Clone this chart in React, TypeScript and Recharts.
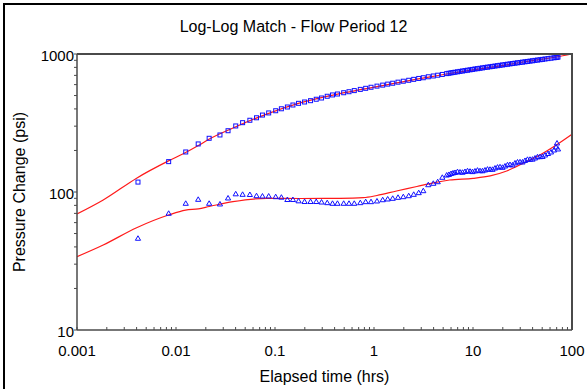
import { ComposedChart, Line, Scatter, XAxis, YAxis } from "recharts";

// elapsed time (hrs) of each measured point
const times = [
  0.00413, 0.00843, 0.01254, 0.01676, 0.02162, 0.0278, 0.03355, 0.04012, 0.04708, 0.05573,
  0.06504, 0.0747, 0.08634, 0.1016, 0.116, 0.1334, 0.1517, 0.1729, 0.1989, 0.2286,
  0.2609, 0.2952, 0.3369, 0.381, 0.4275, 0.494, 0.559, 0.632, 0.727, 0.824,
  0.933, 1.072, 1.224, 1.375, 1.545, 1.748, 1.977, 2.242, 2.518, 2.828,
  3.147, 3.536, 3.972, 4.4, 4.898,
  5.424, 5.71, 5.995, 6.28, 6.58, 6.97, 7.39, 7.83, 8.3, 8.8,
  9.33, 9.88, 10.47, 11.1, 11.77, 12.47, 13.22, 14.01, 14.85, 15.74,
  16.68, 17.68, 18.74, 19.86, 21.05, 22.31, 23.64, 25.06, 26.56, 28.15,
  29.84, 31.62, 33.52, 35.52, 37.65, 39.9, 42.3, 44.82, 47.51, 50.35,
  53.37, 57.23, 61.37, 65.81, 68.94, 70.56, 72.2,
];

// pressure change (psi) - squares
const pressureChange = [
  118, 166, 195, 223, 245, 259, 278, 301, 318, 331,
  345, 361, 374, 388, 401, 413, 427, 439, 449, 459,
  470, 480, 494, 505, 513, 524, 533, 543, 554, 564,
  574, 585, 595, 605, 614, 625, 635, 645, 655, 665,
  673, 684, 693, 702, 711,
  721, 725, 730, 734, 738, 743, 748, 753, 758, 763,
  768, 773, 779, 783, 788, 793, 799, 803, 808, 813,
  818, 823, 828, 833, 838, 843, 848, 853, 858, 863,
  868, 873, 878, 883, 888, 893, 899, 904, 909, 914,
  920, 926, 932, 939, 943, 946, 950,
];

// pressure derivative (psi) - triangles
const derivative = [
  46.2, 70.1, 82.8, 88.5, 82.8, 81.9, 90.5, 97.0, 96.2, 95.9,
  94.0, 93.5, 93.5, 92.5, 91.7, 88.2, 88.2, 86.3, 85.3, 85.3,
  85.3, 84.6, 83.7, 82.8, 82.8, 82.8, 82.8, 82.8, 83.7, 85.1,
  85.1, 86.1, 87.9, 89.0, 90.0, 91.5, 92.5, 94.0, 96.2, 98.9,
  102.2, 112.9, 115.6, 118.7, 127.8,
  132.7, 134, 136.1, 137.5, 138.5, 140.5, 139.6, 139, 140.8, 142.5,
  141.5, 140.5, 142.0, 144, 142.7, 142.5, 144.4, 146.5, 146.1, 146,
  149.2, 151.5, 152.3, 151, 154.3, 157.5, 158.2, 157, 162.3, 165,
  165.5, 165, 169.2, 172.5, 172.6, 173, 176.4, 180, 180.3, 181,
  185.4, 190.1, 195.0, 201.5, 211.8, 226.5, 205,
];

// model match curves
const modelTimes = [
  0.001, 0.00184, 0.004, 0.0084, 0.0125, 0.0168, 0.0217, 0.0376, 0.0824, 0.179,
  0.453, 0.78, 1.07, 1.69, 2.71, 3.96, 5.8, 10, 14.9, 21.9,
  32.2, 47.3, 69.4, 100,
];
const modelPressure = [
  69.3, 87.5, 126, 168, 193, 217, 242, 291, 367, 442,
  517, 556, 580, 617, 657, 689, 722, 768, 800, 835,
  875, 912, 951, 1000,
];
const modelDerivative = [
  34.0, 41.3, 55.1, 68.1, 74.0, 75.5, 78.5, 85.1, 90.0, 89.7,
  90.0, 91.0, 94.3, 101.7, 109.6, 116.6, 122.2, 125.6, 130.7, 142.0,
  161.5, 185.3, 219, 262,
];

const xDecades = [0.001, 0.01, 0.1, 1, 10];
const yDecades = [10, 100];
const minorSteps = [1, 2, 3, 4, 5, 6, 7, 8, 9];
const xLabels = [0.001, 0.01, 0.1, 1, 10, 100];
const yLabels = [10, 100, 1000];

const xTicks = [...xDecades.flatMap((d) => minorSteps.map((m) => +(d * m).toPrecision(6))), 100];
const yTicks = [...yDecades.flatMap((d) => minorSteps.map((m) => d * m)), 1000];

const FONT = '"Liberation Sans", Arial, sans-serif';
const AXIS = "#4a4a4a";
const BLUE = "#1010ff";
const RED = "#ff1a1a";

const pressureData = times.map((t, i) => ({ t, p: pressureChange[i] }));
const derivData = times.map((t, i) => ({ t, p: derivative[i] }));
const modelPData = modelTimes.map((t, i) => ({ t, p: modelPressure[i] }));
const modelDData = modelTimes.map((t, i) => ({ t, p: modelDerivative[i] }));

const isLabel = (list: number[], v: number) => list.find((l) => Math.abs(l - v) / l < 1e-6);

const XTick = (props: any) => {
  const { x, y, payload } = props;
  const lab = isLabel(xLabels, payload.value);
  return (
    <g>
      <line x1={x} x2={x} y1={y} y2={y - 3} stroke={AXIS} />
      {lab !== undefined && (
        <text x={x} y={y + 20} textAnchor="middle" dominantBaseline="central" fontSize={15} fontFamily={FONT} fill="#000">
          {String(lab)}
        </text>
      )}
    </g>
  );
};

const YTick = (props: any) => {
  const { x, y, payload } = props;
  const lab = isLabel(yLabels, payload.value);
  return (
    <g>
      <line x1={x - 3} x2={x} y1={y} y2={y} stroke={AXIS} />
      {lab !== undefined && (
        <text x={x - 3} y={y + 1} textAnchor="end" dominantBaseline="central" fontSize={15} fontFamily={FONT} fill="#000">
          {String(lab)}
        </text>
      )}
    </g>
  );
};

const Square = (props: any) => {
  const { cx, cy } = props;
  if (cx == null || cy == null) return null;
  return <rect x={cx - 2} y={cy - 2} width={4} height={4} fill="none" stroke={BLUE} strokeWidth={1} />;
};

const Triangle = (props: any) => {
  const { cx, cy } = props;
  if (cx == null || cy == null) return null;
  return (
    <polygon
      points={`${cx},${cy - 2.5} ${cx - 2.6},${cy + 2} ${cx + 2.6},${cy + 2}`}
      fill="none"
      stroke={BLUE}
      strokeWidth={1}
    />
  );
};

export default function App() {
  return (
    <div style={{ position: "absolute", left: 0, top: 0, width: 587, height: 389, background: "#fff", fontFamily: FONT, overflow: "hidden" }}>
      <div style={{ position: "absolute", left: 3, top: 3, right: 0, bottom: 0, borderLeft: "2px solid #000", borderTop: "2px solid #000" }} />
      <div style={{ position: "absolute", left: 0, top: 18, width: 587, textAlign: "center", fontSize: 16, lineHeight: "18px" }}>
        Log-Log Match - Flow Period 12
      </div>
      <div style={{ position: "absolute", left: 0, top: 0 }}>
        <ComposedChart width={587} height={389} margin={{ top: 54, right: 15, bottom: 29, left: 17 }}>
          <XAxis
            dataKey="t"
            type="number"
            scale="log"
            domain={[0.001, 100]}
            allowDataOverflow
            ticks={xTicks}
            interval={0}
            tickSize={0}
            tickMargin={0}
            tickLine={false}
            tick={<XTick />}
            height={30}
            axisLine={{ stroke: AXIS, strokeWidth: 1.5 }}
          />
          <YAxis
            dataKey="p"
            type="number"
            scale="log"
            domain={[10, 1000]}
            allowDataOverflow
            ticks={yTicks}
            interval={0}
            tickSize={0}
            tickMargin={0}
            tickLine={false}
            tick={<YTick />}
            width={60}
            axisLine={{ stroke: AXIS, strokeWidth: 1.5 }}
          />
          <Line data={modelPData} dataKey="p" type="monotone" stroke={RED} strokeWidth={1.2} dot={false} isAnimationActive={false} />
          <Line data={modelDData} dataKey="p" type="monotone" stroke={RED} strokeWidth={1.2} dot={false} isAnimationActive={false} />
          <Scatter data={pressureData} dataKey="p" shape={<Square />} isAnimationActive={false} />
          <Scatter data={derivData} dataKey="p" shape={<Triangle />} isAnimationActive={false} />
        </ComposedChart>
      </div>
      <div
        style={{
          position: "absolute",
          left: 77,
          top: 53,
          width: 496,
          height: 277,
          boxSizing: "border-box",
          borderTop: `2px solid ${AXIS}`,
          borderRight: `2px solid ${AXIS}`,
          pointerEvents: "none",
        }}
      />
      <div style={{ position: "absolute", left: 77, top: 368, width: 495, textAlign: "center", fontSize: 16, lineHeight: "18px" }}>
        Elapsed time (hrs)
      </div>
      <div
        style={{
          position: "absolute",
          left: 20 - 100,
          top: 192 - 9,
          width: 200,
          height: 18,
          textAlign: "center",
          fontSize: 16,
          lineHeight: "18px",
          transform: "rotate(-90deg)",
        }}
      >
        Pressure Change (psi)
      </div>
    </div>
  );
}
